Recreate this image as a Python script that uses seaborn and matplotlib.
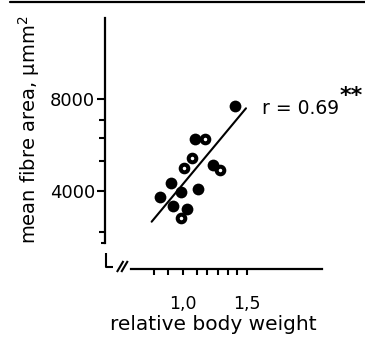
import matplotlib
matplotlib.use("Agg")
import matplotlib.pyplot as plt
import seaborn as sns
import pandas as pd
from matplotlib.lines import Line2D

# ---- data ----
filled_x = [1.406, 1.094, 1.237, 0.910, 0.820, 0.982, 1.117, 0.924, 1.035]
filled_y = [7700, 6260, 5130, 4350, 3740, 3970, 4070, 3360, 3220]
open_x = [1.172, 1.068, 1.010, 1.289, 0.988]
open_y = [6260, 5420, 5010, 4910, 2830]
fit_x = [0.755, 1.492]
fit_y = [2665, 7596]
y_major = [4000, 8000]
y_major_labels = ["4000", "8000"]
y_minor = [7100, 6300, 5300, 2200]
x_ticks = [0.77, 0.88, 1.0, 1.11, 1.19, 1.27, 1.35, 1.42, 1.5]
x_tick_labels = ["", "", "1,0", "", "", "", "", "", "1,5"]
r_text = "r = 0.69"

sns.set_style("ticks")
plt.rcParams["font.family"] = ["DejaVu Sans"]
for k in ["text.color", "axes.labelcolor", "xtick.color", "ytick.color",
          "axes.edgecolor"]:
    plt.rcParams[k] = "black"

fig = plt.figure(figsize=(3.65, 3.46), dpi=100)
ax = fig.add_axes([105 / 365, 1 - 269 / 346, 217 / 365, 251 / 346])

filled = pd.DataFrame({"x": filled_x, "y": filled_y})
opened = pd.DataFrame({"x": open_x, "y": open_y})
fit = pd.DataFrame({"x": fit_x, "y": fit_y})

sns.lineplot(data=fit, x="x", y="y", ax=ax, color="black", linewidth=1.5)
sns.scatterplot(data=filled, x="x", y="y", ax=ax, color="black", s=72,
                edgecolor="black", linewidth=0, zorder=3)
sns.scatterplot(data=opened, x="x", y="y", ax=ax, facecolor="white", s=30,
                edgecolor="black", linewidth=2.9, zorder=4)

ax.set_xlim(0.3906, 2.0859)
ax.set_ylim(609, 11522)

for s in ["top", "right"]:
    ax.spines[s].set_visible(False)
ax.spines["left"].set_linewidth(1.6)
ax.spines["bottom"].set_linewidth(1.6)
ax.spines["left"].set_bounds(1740, 11522)
ax.spines["bottom"].set_bounds(0.59, 2.0859)

ax.set_yticks(y_major)
ax.set_yticklabels(y_major_labels)
ax.set_yticks(y_minor, minor=True)
ax.set_xticks(x_ticks)
ax.set_xticklabels(x_tick_labels)
ax.tick_params(axis="y", which="major", direction="out", length=6, width=1.5,
               labelsize=13, pad=1)
ax.tick_params(axis="y", which="minor", direction="out", length=4.5, width=1.5)
ax.tick_params(axis="x", which="major", direction="out", length=4, width=1.5,
               labelsize=12.5, pad=15)

ax.set_xlabel("relative body weight", fontsize=14.5, labelpad=1)
ax.set_ylabel("mean fibre area, \u03bcmm$^2$", fontsize=14)
ax.yaxis.set_label_coords(-0.29, 0.555)

# axis break decorations (axes fraction coordinates)
kw = dict(transform=ax.transAxes, color="black", lw=1.5, clip_on=False,
          solid_capstyle="butt")
ax.plot([0.0, -0.02], [0.104, 0.104], **kw)
ax.plot([0.005, 0.005, 0.035], [0.064, 0.006, 0.006], **kw)
ax.plot([0.055, 0.085], [-0.012, 0.032], **kw)
ax.plot([0.075, 0.105], [-0.012, 0.032], **kw)

ax.text(0.7235, 0.641, r_text, transform=ax.transAxes, fontsize=13.5,
        ha="left", va="center")
ax.text(1.08, 0.69, "**", transform=ax.transAxes, fontsize=16,
        fontweight="bold", ha="left", va="center")

fig.add_artist(Line2D([10 / 365, 1], [1 - 1.5 / 346, 1 - 1.5 / 346],
                      color="black", lw=1.6, transform=fig.transFigure))

fig.savefig("out.png", dpi=100)
